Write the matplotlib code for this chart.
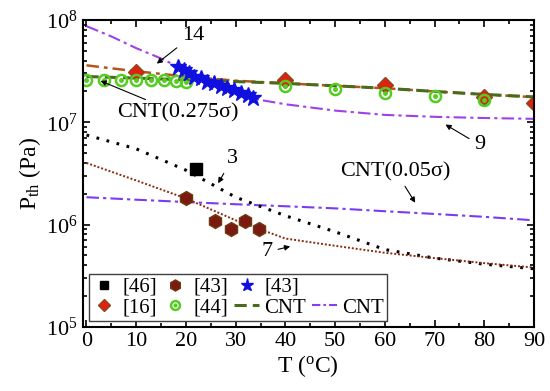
import numpy as np
import matplotlib
matplotlib.use("Agg")
import matplotlib.pyplot as plt
from matplotlib.lines import Line2D
from matplotlib.ticker import MultipleLocator, LogLocator, NullFormatter

plt.rcParams['font.family'] = 'Liberation Serif'
plt.rcParams['mathtext.fontset'] = 'custom'
plt.rcParams['mathtext.rm'] = 'Liberation Serif'
plt.rcParams['mathtext.it'] = 'Liberation Serif:italic'

# curves (read at T = 0, 10, ..., 90)
T_curve = [0, 10, 20, 30, 40, 50, 60, 70, 80, 90]
cnt_0275 = [2.8e7, 2.7e7, 2.6e7, 2.5e7, 2.4e7, 2.27e7, 2.15e7, 2.0e7, 1.87e7, 1.77e7]
line_14 = [3.6e7, 3.15e7, 2.8e7, 2.55e7, 2.4e7, 2.27e7, 2.15e7, 2.0e7, 1.87e7, 1.76e7]
cnt_005 = [1.85e6, 1.75e6, 1.66e6, 1.58e6, 1.51e6, 1.44e6, 1.35e6, 1.27e6, 1.19e6, 1.1e6]
line_3 = [7.5e6, 5.5e6, 3.4e6, 1.85e6, 1.22e6, 8.5e5, 5.7e5, 4.7e5, 4.1e5, 3.7e5]
line_7 = [4.0e6, 2.7e6, 1.8e6, 1.1e6, 7.3e5, 6.2e5, 5.3e5, 4.7e5, 4.2e5, 3.8e5]
T_9 = [0, 5, 10, 15, 20, 25, 30, 35, 40, 50, 60, 70, 80, 90]
line_9 = [8.7e7, 6.9e7, 5.3e7, 4.2e7, 3.2e7, 2.5e7, 2.0e7, 1.65e7, 1.5e7, 1.3e7, 1.18e7, 1.13e7, 1.1e7, 1.08e7]

# experimental points
T_46 = [22]
P_46 = [3.5e6]
T_43h = [20, 25.8, 29.1, 31.8, 34.6]
P_43h = [1.8e6, 1.09e6, 9.1e5, 1.09e6, 9.1e5]
T_43s = [18.5, 19.6, 20.6, 21.6, 23.0, 24.3, 25.6, 27.0, 28.3, 29.7, 31.0, 32.4, 33.4]
P_43s = [3.5e7, 3.24e7, 3.01e7, 2.79e7, 2.69e7, 2.49e7, 2.40e7, 2.26e7, 2.15e7, 2.07e7, 1.92e7, 1.85e7, 1.72e7]
T_16 = [10, 40, 60, 80, 90]
P_16 = [3.1e7, 2.6e7, 2.3e7, 1.78e7, 1.53e7]
T_44 = [0, 3.5, 7, 10, 13, 15.5, 18, 20, 40, 50, 60, 70, 80]
P_44 = [2.6e7, 2.6e7, 2.6e7, 2.6e7, 2.6e7, 2.6e7, 2.55e7, 2.5e7, 2.26e7, 2.1e7, 1.92e7, 1.82e7, 1.65e7]

green = '#4a6a1c'
purple = '#8a3cf0'
brown = '#b5541c'

fig, ax = plt.subplots(figsize=(5.5, 3.91), dpi=100)
fig.subplots_adjust(left=0.150, right=0.971, top=0.949, bottom=0.164)

ax.plot(T_9, line_9, color='#a040e8', lw=1.5, ls=(0, (6, 2, 1.5, 2)))
ax.plot(T_curve, cnt_005, color='#7a3cf0', lw=1.5, ls=(0, (6, 2, 1.5, 2)))
ax.plot(T_curve, line_3, color='black', lw=2.2, ls=(0, (0.9, 2.5)))
ax.plot(T_curve, line_7, color='#8b2a10', lw=1.4, ls=(0, (1, 1)))
ax.plot(T_curve, line_14, color=brown, lw=1.8, ls=(0, (5, 2, 1.5, 2)))
h_cnt1, = ax.plot(T_curve, cnt_0275, color=green, lw=2.2, ls=(0, (4, 2)))

h16, = ax.plot(T_16, P_16, ls='none', marker='D', ms=8, mfc='#e02010', mec='#8a4a20', mew=1)
h44a, = ax.plot(T_44, P_44, ls='none', marker='o', ms=8, mfc='none', mec='#55cc22', mew=1.8)
h44b, = ax.plot(T_44, P_44, ls='none', marker='o', ms=2.5, mfc='#55cc22', mec='#55cc22')
h46, = ax.plot(T_46, P_46, ls='none', marker='s', ms=8, color='black')
h43h, = ax.plot(T_43h, P_43h, ls='none', marker='h', ms=10, mfc='#7a1a10', mec='#6b3a10', mew=1)
h43s, = ax.plot(T_43s, P_43s, ls='none', marker='*', ms=12, color='#1010e0')
h_cnt2 = Line2D([], [], color=purple, lw=1.5, ls=(0, (4, 1.5, 1.2, 1.5)))
blank = Line2D([], [], ls='none')

ax.set_yscale('log')
ax.set_xlim(-0.8, 90)
ax.set_ylim(1e5, 1e8)
ax.xaxis.set_major_locator(MultipleLocator(10))
ax.xaxis.set_minor_locator(MultipleLocator(5))
ax.yaxis.set_major_locator(LogLocator(base=10, numticks=10))
ax.yaxis.set_minor_locator(LogLocator(base=10, subs=np.arange(2, 10), numticks=10))
ax.yaxis.set_minor_formatter(NullFormatter())
ax.tick_params(which='both', direction='in', top=True, right=True, width=1.2)
ax.tick_params(which='major', length=5, labelsize=16)
ax.tick_params(which='minor', length=3)
for s in ax.spines.values():
    s.set_linewidth(1.5)

ax.set_xlabel(r'T ($\mathregular{^{o}}$C)', fontsize=17, labelpad=2)
ax.set_ylabel(r'P$_{\mathregular{th}}$ (Pa)', fontsize=17, labelpad=2)

arr = dict(arrowstyle='-|>', color='black', lw=0.8, mutation_scale=8)
ax.annotate('14', xy=(13.7, 3.6e7), xytext=(21.4, 7.1e7), fontsize=16, ha='center', va='center', arrowprops=arr)
ax.annotate('CNT(0.275σ)', xy=(2.3, 2.6e7), xytext=(18.4, 1.23e7), fontsize=16, ha='center', va='center', arrowprops=arr)
ax.annotate('3', xy=(26.2, 2.4e6), xytext=(29.3, 4.4e6), fontsize=16, ha='center', va='center', arrowprops=arr)
ax.annotate('7', xy=(41.5, 6.2e5), xytext=(36.3, 5.4e5), fontsize=16, ha='center', va='center', arrowprops=arr)
ax.annotate('9', xy=(71.7, 9.8e6), xytext=(79.1, 6.0e6), fontsize=16, ha='center', va='center', arrowprops=arr)
ax.annotate('CNT(0.05σ)', xy=(66.4, 1.55e6), xytext=(62.2, 3.3e6), fontsize=16, ha='center', va='center', arrowprops=arr)

handles = [h46, h16, h43h, (h44a, h44b), h43s, h_cnt1, blank, h_cnt2]
labels = ['[46]', '[16]', '[43]', '[44]', '[43]', 'CNT', '', 'CNT']
leg = ax.legend(handles, labels, ncol=4, loc='lower left', fontsize=15, frameon=True, fancybox=False,
                edgecolor='#404040', framealpha=1, handlelength=1.2, handletextpad=0.25,
                columnspacing=0.3, labelspacing=0.05, borderpad=0.15, borderaxespad=0.3,
                markerscale=0.8)
leg.get_frame().set_linewidth(1.0)

fig.savefig('out.png', dpi=100)
